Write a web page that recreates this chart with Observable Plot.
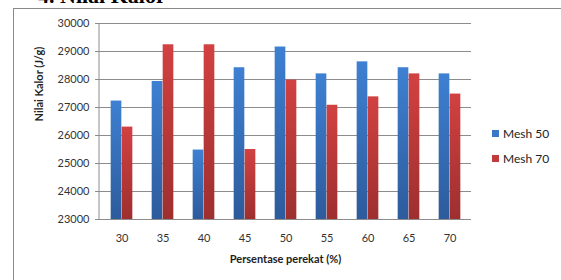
<!DOCTYPE html>
<html>
<head>
<meta charset="utf-8">
<script src="https://cdn.jsdelivr.net/npm/d3@7"></script>
<script src="https://cdn.jsdelivr.net/npm/@observablehq/plot@0.6"></script>
<style>
  html, body { margin: 0; padding: 0; background: #fff; }
  body { width: 561px; height: 280px; position: relative; overflow: hidden; font-family: Lato, "Open Sans", sans-serif; }
  #frame { position: absolute; left: 13px; top: 8px; width: 600px; height: 300px; border: 1px solid #8a8a8a; box-sizing: border-box; }
  #title { position: absolute; left: 38px; top: -17px; font: bold 22px "Liberation Serif", serif; color: #000; white-space: nowrap; }
  #chart { position: absolute; left: 0; top: 0; }
  .leg { position: absolute; left: 492px; font-size: 12px; color: #222; display: flex; align-items: center; white-space: nowrap; }
  .leg span.sw { display: inline-block; width: 7px; height: 7px; margin-right: 4px; }
</style>
</head>
<body>
<div id="title">4. Nilai Kalor</div>
<div id="frame"></div>
<div id="chart"></div>
<div class="leg" style="top:126px"><span class="sw" style="background:#3a77c4"></span>Mesh 50</div>
<div class="leg" style="top:151px"><span class="sw" style="background:#c23a3a"></span>Mesh 70</div>
<script>
const categories = ["30", "35", "40", "45", "50", "55", "60", "65", "70"];
const mesh50 = [27230, 27930, 25480, 28420, 29160, 28200, 28630, 28420, 28200];
const mesh70 = [26300, 29240, 29240, 25500, 27980, 27080, 27380, 28200, 27480];
const yTicks = [23000, 24000, 25000, 26000, 27000, 28000, 29000, 30000];
const xLabel = "Persentase perekat (%)";
const yLabel = "Nilai Kalor (J/g)";

const d50 = categories.map((c, i) => ({cat: c, value: mesh50[i]}));
const d70 = categories.map((c, i) => ({cat: c, value: mesh70[i]}));

const W = 561, H = 280, mL = 99, mR = 90, mT = 23, mB = 61;
const band = (W - mL - mR) / categories.length;
const barW = 11;
const half = band / 2;

const plot = Plot.plot({
  width: W,
  height: H,
  marginLeft: mL,
  marginRight: mR,
  marginTop: mT,
  marginBottom: mB,
  style: {fontFamily: "Lato, 'Open Sans', sans-serif", fontSize: "11px", color: "#333", background: "transparent"},
  x: {domain: categories, padding: 0, label: null},
  y: {domain: [23000, 30000], label: null},
  marks: [
    Plot.ruleY(yTicks, {stroke: "#8c8c8c", strokeWidth: 1}),
    Plot.barY(d50, {x: "cat", y1: 23000, y2: "value", fill: "url(#gBlue)", insetLeft: half - barW, insetRight: half}),
    Plot.barY(d70, {x: "cat", y1: 23000, y2: "value", fill: "url(#gRed)", insetLeft: half, insetRight: half - barW}),
    Plot.axisY({ticks: yTicks, tickFormat: d => String(d), tickSize: 4, tickPadding: 6, stroke: "#8c8c8c", fill: "#333", fontSize: 11, label: null}),
    Plot.axisX({tickSize: 0, tickPadding: 15, fill: "#333", fontSize: 11, label: null}),
    Plot.ruleY([23000], {stroke: "#8c8c8c"}),
    Plot.text([xLabel], {frameAnchor: "bottom", lineAnchor: "middle", dy: 40, fontWeight: "bold", fontSize: 11, fill: "#222"}),
    Plot.text([yLabel], {frameAnchor: "left", dx: -60, rotate: -90, fontWeight: "bold", fontSize: 11, fill: "#222"})
  ]
});

const svg = d3.select(plot);
const defs = svg.insert("defs", ":first-child");
const gb = defs.append("linearGradient").attr("id", "gBlue").attr("x1", 0).attr("y1", 0).attr("x2", 0).attr("y2", 1);
gb.append("stop").attr("offset", "0%").attr("stop-color", "#3e80d2");
gb.append("stop").attr("offset", "100%").attr("stop-color", "#2d5b9c");
const gr = defs.append("linearGradient").attr("id", "gRed").attr("x1", 0).attr("y1", 0).attr("x2", 0).attr("y2", 1);
gr.append("stop").attr("offset", "0%").attr("stop-color", "#d24141");
gr.append("stop").attr("offset", "100%").attr("stop-color", "#9e2f2f");

// left axis line
svg.append("line").attr("x1", mL).attr("x2", mL).attr("y1", mT).attr("y2", H - mB).attr("stroke", "#8c8c8c");

document.getElementById("chart").appendChild(plot);
</script>
</body>
</html>
